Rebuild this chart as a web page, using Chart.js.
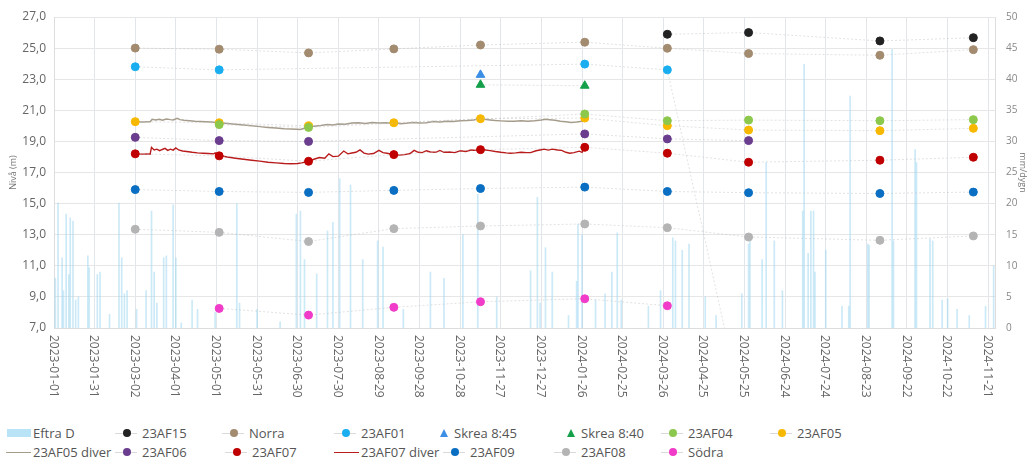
<!DOCTYPE html>
<html>
<head>
<meta charset="utf-8">
<script src="https://cdn.jsdelivr.net/npm/chart.js@4/dist/chart.umd.min.js"></script>
<style>
  html, body { margin: 0; padding: 0; background: #fff; }
  #wrap { position: relative; width: 1032px; height: 461px; overflow: hidden; }
  #c { position: absolute; left: 0; top: 0; }
  .lg { position: absolute; font: 13px "Open Sans", sans-serif; color: #555; white-space: nowrap; height: 18px; line-height: 18px; }
  .mk { position: absolute; top: 0; height: 18px; }
  .ln { position: absolute; top: 8.5px; height: 0; border-top: 1px solid; }
  .dt { position: absolute; top: 5px; width: 8px; height: 8px; border-radius: 50%; }
  .tri { position: absolute; top: 5px; width: 0; height: 0; border-left: 4.5px solid transparent; border-right: 4.5px solid transparent; border-bottom: 8px solid; }
  .sw { position: absolute; top: 5px; height: 8px; }
</style>
</head>
<body>
<div id="wrap">
  <canvas id="c" width="1032" height="415"></canvas>
</div>
<script>
// ---------- DATA ----------
const originDate = '2023-01-01';
const tickStepDays = 30;
const xMaxDay = 695;

const measureDates = ['2023-03-02','2023-05-03','2023-07-08','2023-09-09','2023-11-12','2024-01-28','2024-03-29','2024-05-28','2024-09-02','2024-11-10'];

const norra   = [25.00, 24.93, 24.69, 24.95, 25.20, 25.38, 24.99, 24.65, 24.54, 24.90];
const af15    = [null, null, null, null, null, null, 25.89, 26.00, 25.46, 25.67];
const af01    = [23.80, 23.60, null, null, null, 23.97, 23.60, 0, null, null];
const skrea845 = [null, null, null, null, 23.28, null, null, null, null, null];
const skrea840 = [null, null, null, null, 22.64, 22.58, null, null, null, null];
const af04    = [null, 20.08, 19.90, null, null, 20.76, 20.33, 20.37, 20.33, 20.40];
const af05    = [20.27, 20.20, 20.00, 20.20, 20.46, 20.50, 20.01, 19.73, 19.69, 19.84];
const af06    = [19.26, 19.05, 19.00, null, null, 19.48, 19.16, 19.05, null, null];
const af07    = [18.20, 18.07, 17.72, 18.15, 18.47, 18.62, 18.24, 17.66, 17.79, 17.98];
const af09    = [15.90, 15.78, 15.72, 15.85, 15.97, 16.06, 15.78, 15.70, 15.65, 15.74];
const af08    = [13.35, 13.15, 12.56, 13.39, 13.56, 13.69, 13.45, 12.85, 12.64, 12.92];
const sodra   = [null, 8.26, 7.83, 8.33, 8.69, 8.88, 8.43, null, null, null];

// diver logger series (days since 2023-01-01)
const diver05Day = [60.6,65,70,71,72.5,75,78,80,83,86,88,91,93,96,100,104,108,112,116,120,123,128,134,140,146,152,158,164,170,175,179,182,185,188,192,197,202,206,210,215,220,225,230,235,240,245,250,252,256,260,265,270,275,280,285,290,295,300,305,310,315,318,322,326,330,335,340,345,350,355,360,363,366,370,374,378,382,386,390,392];
const diver05Val = [20.27,20.25,20.27,20.26,20.42,20.38,20.42,20.36,20.44,20.40,20.38,20.48,20.40,20.36,20.33,20.30,20.28,20.26,20.24,20.22,20.20,20.15,20.10,20.05,20.00,19.95,19.90,19.86,19.82,19.80,19.78,19.76,19.85,19.95,19.98,20.02,20.08,20.05,20.12,20.10,20.18,20.20,20.15,20.22,20.18,20.20,20.17,20.20,20.14,20.16,20.22,20.18,20.20,20.28,20.25,20.30,20.28,20.33,20.35,20.38,20.48,20.42,20.38,20.34,20.32,20.30,20.30,20.32,20.30,20.33,20.38,20.42,20.40,20.36,20.30,20.26,20.22,20.25,20.30,20.32];

const diver07Day = [60.6,65,70,71,72,74,76,78,80,82,84,86,88,90,92,95,98,102,106,110,114,118,119,121,123,128,134,140,146,152,158,164,170,175,180,183,188,192,196,200,203,206,210,214,217,220,223,226,229,232,236,240,243,247,251,255,259,263,266,269,272,275,278,282,285,288,292,296,300,304,308,312,315,319,322,326,330,334,337,341,345,349,352,356,359,362,365,368,372,375,378,381,384,388,390,392];
const diver07Val = [18.20,18.18,18.20,18.18,18.62,18.45,18.50,18.40,18.48,18.55,18.42,18.50,18.44,18.58,18.45,18.38,18.35,18.30,18.26,18.24,18.22,18.20,18.26,18.12,18.08,18.00,17.92,17.85,17.79,17.73,17.66,17.62,17.58,17.56,17.58,17.62,17.72,17.85,17.96,17.92,18.20,18.02,18.05,18.38,18.20,18.25,18.30,18.45,18.25,18.18,18.22,18.42,18.28,18.22,18.15,18.12,18.15,18.22,18.42,18.30,18.28,18.40,18.32,18.30,18.42,18.30,18.32,18.28,18.40,18.35,18.45,18.42,18.47,18.45,18.41,18.35,18.30,18.26,18.24,18.26,18.30,18.28,18.28,18.40,18.45,18.50,18.44,18.50,18.45,18.42,18.30,18.24,18.28,18.37,18.30,18.62];

// precipitation Eftra D (mm/dygn), days since 2023-01-01
const precipDay = [1,3,6,7,9,11,12,14,16,18,25,26,32,34,41,48,50,52,54,61,68,72,74,76,81,83,88,90,94,102,106,119,135,137,150,167,179,182,185,194,202,206,211,219,228,239,243,258,278,288,302,313,327,352,357,359,363,368,380,386,387,390,400,407,412,416,419,439,448,457,459,464,469,481,489,508,513,514,523,526,532,538,553,554,557,559,561,562,570,582,587,588,601,602,619,620,636,637,647,649,656,660,667,676,688,694];
const precipMm  = [8,20.1,11.3,6,18.3,8.6,17.7,17.2,4.5,5,11.6,9.7,8.6,9,2.2,20.1,11.3,5.5,6,3,6,18.8,9,4,11.3,11.6,19.8,11.3,0.8,4.5,3,2.5,20,4,3,1,18.3,18.8,11,8.7,15.6,17,24,23,11,14,13,3,9,8,15,21.5,5,9.2,21,4,12.9,9,2,7.5,16.7,15,4.5,5.5,9,15.3,4.5,3.5,6,14.5,14,12.5,13.5,5,2,5.5,13.5,14,11,26.6,14,6,18.8,42.4,12,18.8,18.8,9,12.5,3.5,3.5,37.3,13.5,13.3,44.8,14,28.7,26.6,14.3,14,4.5,4.7,3,2,3.5,10];

// ---------- HELPERS ----------
const t0 = Date.parse(originDate + 'T00:00:00Z');
const toDay = s => Math.round((Date.parse(s + 'T00:00:00Z') - t0) / 864e5);
const toDate = d => new Date(t0 + d * 864e5).toISOString().slice(0, 10);
const mDays = measureDates.map(toDay);
const pts = arr => arr.map((v, i) => ({ x: mDays[i], y: v }));
const pairs = (xs, ys) => xs.map((x, i) => ({ x: x, y: ys[i] }));

const faint = 'rgba(190,190,190,0.45)';
function pointSeries(label, arr, color, style) {
  return {
    type: 'line', label: label, data: pts(arr), yAxisID: 'y',
    showLine: true, spanGaps: true, borderColor: faint, borderWidth: 1, borderDash: [2, 2],
    pointBackgroundColor: color, pointBorderColor: color, pointStyle: style || 'circle',
    pointRadius: style === 'triangle' ? 5 : 4, pointHoverRadius: 4, order: 10, _c: color
  };
}

const datasets = [
  { type: 'bar', label: 'Eftra D', data: pairs(precipDay, precipMm), yAxisID: 'y2',
    backgroundColor: 'rgba(160,215,240,0.55)', barThickness: 1, order: 100, _c: '#b9e3f6' },
  pointSeries('23AF15', af15, '#222222'),
  pointSeries('Norra', norra, '#a38b70'),
  pointSeries('23AF01', af01, '#1aaef0'),
  pointSeries('Skrea 8:45', skrea845, '#3d8fe6', 'triangle'),
  pointSeries('Skrea 8:40', skrea840, '#14a04a', 'triangle'),
  pointSeries('23AF04', af04, '#8cc84b'),
  pointSeries('23AF05', af05, '#f7b800'),
  { type: 'line', label: '23AF05 diver', data: pairs(diver05Day, diver05Val), yAxisID: 'y',
    borderColor: '#a59c8c', borderWidth: 1.5, pointRadius: 0, tension: 0, order: 50, _c: '#a59c8c' },
  pointSeries('23AF06', af06, '#6b3d8e'),
  pointSeries('23AF07', af07, '#c00000'),
  { type: 'line', label: '23AF07 diver', data: pairs(diver07Day, diver07Val), yAxisID: 'y',
    borderColor: '#b81c1c', borderWidth: 1.4, pointRadius: 0, tension: 0, order: 50, _c: '#b81c1c' },
  pointSeries('23AF09', af09, '#0a6fc2'),
  pointSeries('23AF08', af08, '#b4b4b4'),
  pointSeries('Södra', sodra, '#f03cc8')
];

const xLabels = {
  id: 'xLabels',
  afterDraw(chart) {
    const sc = chart.scales.x, ctx = chart.ctx;
    ctx.save();
    ctx.font = '12px "Open Sans"';
    ctx.fillStyle = '#666';
    ctx.textAlign = 'left';
    ctx.textBaseline = 'middle';
    sc.ticks.forEach(t => {
      const px = sc.getPixelForValue(t.value);
      ctx.save();
      ctx.translate(px - 1, sc.top + 7);
      ctx.rotate(Math.PI / 2);
      ctx.fillText(toDate(t.value), 0, 0);
      ctx.restore();
    });
    ctx.restore();
  }
};

new Chart(document.getElementById('c'), {
  data: { datasets: datasets },
  plugins: [xLabels],
  options: {
    responsive: false, animation: false,
    layout: { padding: { top: 16, left: 0, right: 0, bottom: 0 } },
    plugins: { legend: { display: false }, tooltip: { enabled: false } },
    scales: {
      x: {
        type: 'linear', min: 0, max: xMaxDay, offset: false,
        ticks: { stepSize: tickStepDays, includeBounds: false, display: false },
        grid: { color: '#e2e6ea', drawTicks: false, offset: false },
        border: { color: '#dddddd' },
        afterFit(s) { s.height = 87; }
      },
      y: {
        position: 'left', min: 7, max: 27,
        ticks: { stepSize: 2, padding: 8, color: '#666', font: { family: 'Open Sans', size: 12 },
                 callback: v => v.toFixed(1).replace('.', ',') },
        grid: { color: '#e6e6e6', drawTicks: false },
        border: { color: '#dddddd' },
        title: { display: true, text: 'Nivå (m)', color: '#777', font: { family: 'Open Sans', size: 9 }, padding: { top: 8, bottom: 0 } },
        afterFit(s) { s.width = 54; }
      },
      y2: {
        position: 'right', min: 0, max: 50,
        ticks: { stepSize: 5, padding: 11, color: '#888', font: { family: 'Open Sans', size: 10 } },
        grid: { display: false, drawTicks: false },
        border: { color: '#dddddd' },
        title: { display: true, text: 'mm/dygn', color: '#777', font: { family: 'Open Sans', size: 9 }, padding: { top: 4, bottom: 0 } },
        afterFit(s) { s.width = 37; }
      }
    }
  }
});

// ---------- HTML legend (text x position, row) ----------
const legendPos = [
  [33, 0], [142, 0], [249, 0], [361, 0], [454, 0], [581, 0], [688, 0], [797, 0],
  [33, 1], [142, 1], [252, 1], [361, 1], [470, 1], [581, 1], [688, 1]
];
const legendOrder = ['Eftra D','23AF15','Norra','23AF01','Skrea 8:45','Skrea 8:40','23AF04','23AF05',
                     '23AF05 diver','23AF06','23AF07','23AF07 diver','23AF09','23AF08','Södra'];
const wrap = document.getElementById('wrap');
legendOrder.forEach((name, i) => {
  const ds = datasets.find(d => d.label === name);
  const [tx, row] = legendPos[i];
  const el = document.createElement('div');
  el.className = 'lg';
  el.style.top = (424 + row * 19) + 'px';
  let mkW, html = '';
  if (ds.type === 'bar') {
    mkW = 26;
    html = `<span class="sw" style="left:0;width:24px;background:${ds._c}"></span>`;
  } else if (ds.pointRadius === 0) {
    mkW = 27;
    html = `<span class="ln" style="left:0;width:25px;border-color:${ds._c}"></span>`;
  } else if (ds.pointStyle === 'triangle') {
    mkW = 15;
    html = `<span class="tri" style="left:1px;border-bottom-color:${ds._c}"></span>`;
  } else {
    mkW = 27;
    html = `<span class="ln" style="left:0;width:22px;border-color:#dadada"></span><span class="dt" style="left:8px;background:${ds._c}"></span>`;
  }
  el.style.left = (tx - mkW) + 'px';
  el.innerHTML = `<span class="mk" style="left:0;width:${mkW}px">${html}</span><span style="margin-left:${mkW}px">${name}</span>`;
  wrap.appendChild(el);
});
</script>
</body>
</html>
